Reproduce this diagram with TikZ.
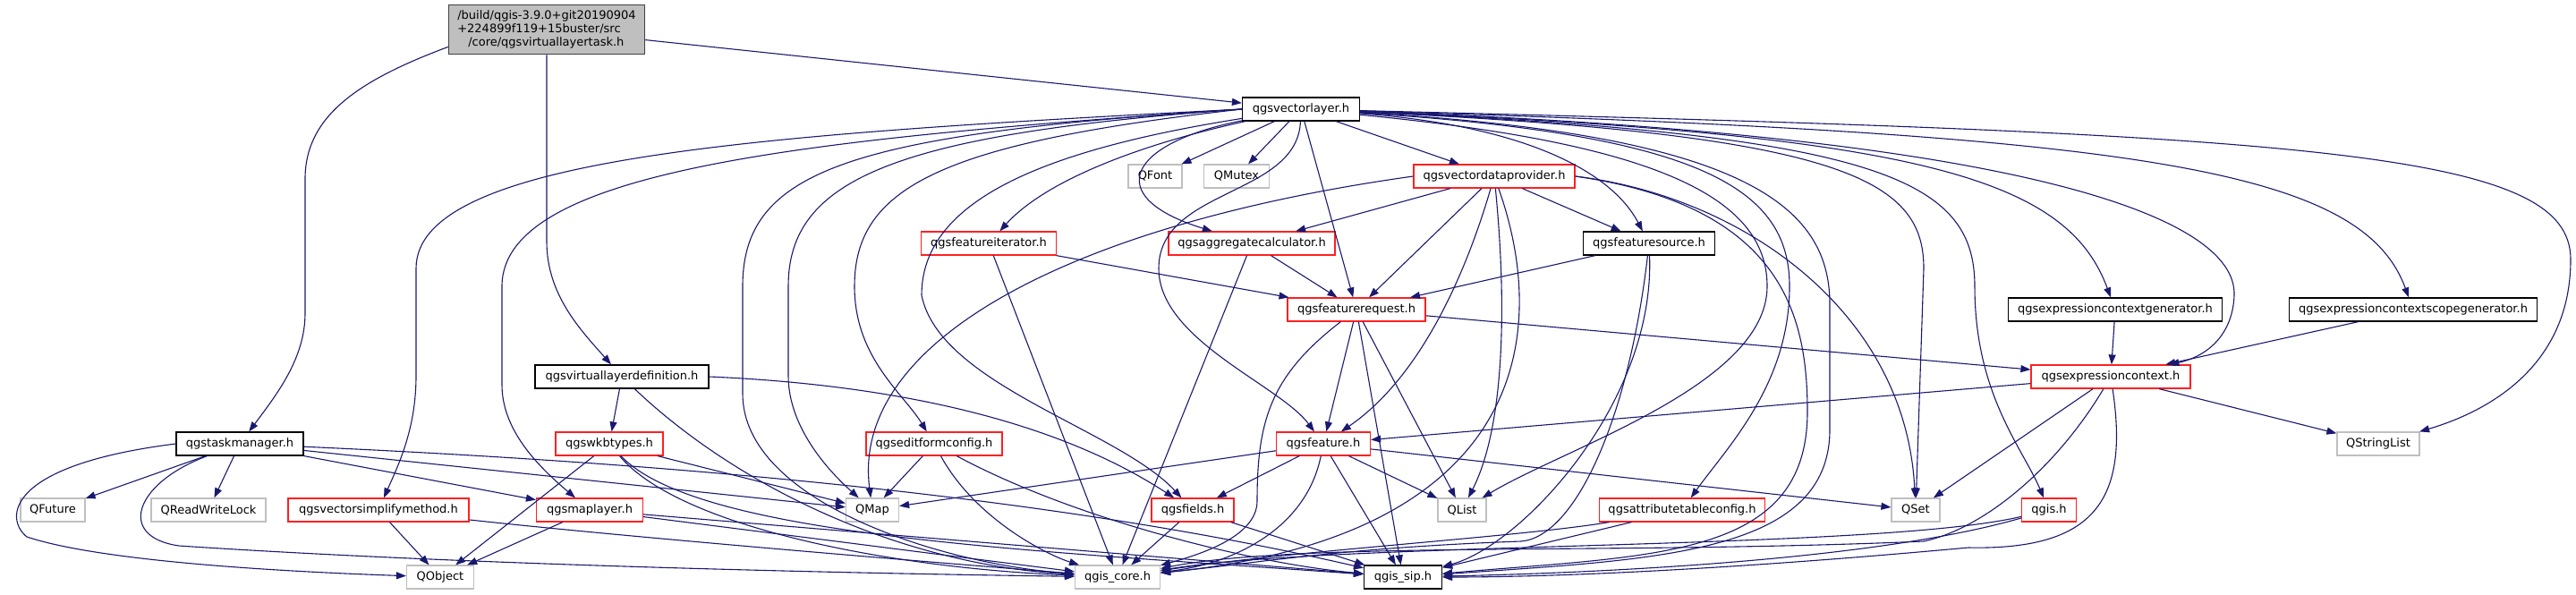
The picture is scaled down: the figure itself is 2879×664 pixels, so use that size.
\documentclass[tikz,border=0pt]{standalone}
\usepackage{fontspec}
\setmainfont{DejaVu Sans}
\usetikzlibrary{arrows.meta}
\definecolor{edgeblue}{HTML}{191970}
\definecolor{boxgray}{HTML}{BFBFBF}
\definecolor{rootgray}{HTML}{404040}
\definecolor{boxred}{HTML}{FF2020}
\tikzset{
  file/.style={draw, line width=1.2pt, minimum height=26pt, inner sep=0pt,
    font=\fontsize{13}{14.7}\selectfont},
  rootfile/.style={file, draw=rootgray, fill=boxgray, line width=1.5pt, align=left},
  docfile/.style={file, draw=black},
  redfile/.style={file, draw=boxred},
  extfile/.style={file, draw=boxgray},
  dep/.style={edgeblue, line width=1.1pt, -{Triangle[length=11pt,width=8pt]}}
}
\begin{document}
\begin{tikzpicture}[x=1pt,y=-1pt]
    \useasboundingbox (0,0) rectangle (2879,664);
    % rank 0 and 1
    \node[rootfile, minimum width=219pt, minimum height=55pt] (root) at (611,33)
        {/build/qgis-3.9.0+git20190904\\+224899f119+15buster/src\\\hspace*{12pt}/core/qgsvirtuallayertask.h};
    \node[docfile, minimum width=131pt] (vlayer) at (1454,122) {qgsvectorlayer.h};
    % rank 2
    \node[extfile, minimum width=60pt] (qfont) at (1291,197) {QFont};
    \node[extfile, minimum width=73pt] (qmutex) at (1382,197) {QMutex};
    \node[redfile, minimum width=180pt] (vdprov) at (1670,197) {qgsvectordataprovider.h};
    % rank 3
    \node[redfile, minimum width=151pt] (fiter) at (1105,272) {qgsfeatureiterator.h};
    \node[redfile, minimum width=186pt] (aggcalc) at (1399,272) {qgsaggregatecalculator.h};
    \node[docfile, minimum width=147pt] (fsource) at (1843,272) {qgsfeaturesource.h};
    % rank 4
    \node[redfile, minimum width=154pt] (freq) at (1516,346) {qgsfeaturerequest.h};
    \node[docfile, minimum width=239pt] (ecgen) at (2364,346) {qgsexpressioncontextgenerator.h};
    \node[docfile, minimum width=277pt] (ecsgen) at (2697,346) {qgsexpressioncontextscopegenerator.h};
    % rank 5
    \node[docfile, minimum width=194pt] (vldef) at (695,421) {qgsvirtuallayerdefinition.h};
    \node[redfile, minimum width=178pt] (exprctx) at (2359,421) {qgsexpressioncontext.h};
    % rank 6
    \node[docfile, minimum width=142pt] (taskmgr) at (268,496) {qgstaskmanager.h};
    \node[redfile, minimum width=120pt] (wkb) at (681,496) {qgswkbtypes.h};
    \node[redfile, minimum width=152pt] (efconf) at (1044,496) {qgseditformconfig.h};
    \node[redfile, minimum width=105pt] (feat) at (1479,496) {qgsfeature.h};
    \node[extfile, minimum width=92pt] (qsl) at (2658,496) {QStringList};
    % rank 7
    \node[extfile, minimum width=72pt] (qfuture) at (59,570) {QFuture};
    \node[extfile, minimum width=128pt] (qrwl) at (233,570) {QReadWriteLock};
    \node[redfile, minimum width=202pt] (vsimp) at (423,570) {qgsvectorsimplifymethod.h};
    \node[redfile, minimum width=119pt] (mlayer) at (659,570) {qgsmaplayer.h};
    \node[extfile, minimum width=59pt] (qmap) at (975,570) {QMap};
    \node[redfile, minimum width=92pt] (fields) at (1333,570) {qgsfields.h};
    \node[extfile, minimum width=54pt] (qlist) at (1634,570) {QList};
    \node[redfile, minimum width=185pt] (atconf) at (1880,570) {qgsattributetableconfig.h};
    \node[extfile, minimum width=54pt] (qset) at (2141,570) {QSet};
    \node[redfile, minimum width=61pt] (qgish) at (2290,570) {qgis.h};
    % rank 8
    \node[extfile, minimum width=75pt] (qobj) at (492,645) {QObject};
    \node[extfile, minimum width=95pt] (core) at (1249,645) {qgis\_core.h};
    \node[docfile, minimum width=87pt] (sip) at (1568,645) {qgis\_sip.h};

    % root
    \draw[dep] (root) -- (vlayer);
    \draw[dep] (root.190) .. controls (400,90) and (341,130) .. (341,200) -- (341,350)
        .. controls (341,400) and (310,440) .. (taskmgr);
    \draw[dep] (root.south) -- (611,270) .. controls (611,330) and (650,370) .. (vldef);

    % qgsvectorlayer.h, to the left
    \draw[dep] (vlayer.west) .. controls (850,150) and (465,175) .. (465,300) -- (465,420)
        .. controls (465,480) and (445,520) .. (vsimp);
    \draw[dep] (vlayer.west) .. controls (900,155) and (561,190) .. (561,320) -- (561,430)
        .. controls (561,480) and (600,520) .. (mlayer);
    \draw[dep] (vlayer.west) .. controls (950,150) and (830,190) .. (830,320) -- (830,440)
        .. controls (830,560) and (1050,630) .. (core);
    \draw[dep] (vlayer.west) .. controls (1000,150) and (881,200) .. (881,320) -- (881,420)
        .. controls (881,480) and (930,530) .. (qmap);
    \draw[dep] (vlayer.west) .. controls (1050,160) and (955,210) .. (955,320)
        .. controls (955,400) and (1010,440) .. (efconf);
    \draw[dep] (vlayer) .. controls (1150,170) and (1030,230) .. (1030,330)
        .. controls (1050,430) and (1250,480) .. (fields);
    \draw[dep] (vlayer) .. controls (1280,160) and (1170,200) .. (fiter);
    \draw[dep] (vlayer) .. controls (1260,160) and (1230,220) .. (aggcalc);
    \draw[dep] (vlayer) -- (qfont);
    \draw[dep] (vlayer) -- (qmutex);
    \draw[dep] (vlayer) .. controls (1450,220) and (1295,210) .. (1295,300)
        .. controls (1295,380) and (1430,430) .. (feat);
    \draw[dep] (vlayer) -- (freq);
    \draw[dep] (vlayer) -- (vdprov);
    % qgsvectorlayer.h, to the right
    \draw[dep] (vlayer) .. controls (1700,140) and (1800,190) .. (fsource);
    \draw[dep] (vlayer) .. controls (1850,160) and (1975,220) .. (1975,320)
        .. controls (1975,430) and (1750,500) .. (qlist);
    \draw[dep] (vlayer) .. controls (1900,150) and (2000,210) .. (2000,320)
        .. controls (2000,430) and (1930,500) .. (atconf);
    \draw[dep] (vlayer) .. controls (1950,150) and (2045,230) .. (2045,340) -- (2045,480)
        .. controls (2045,620) and (1850,625) .. (sip);
    \draw[dep] (vlayer) .. controls (2060,150) and (2150,200) .. (2150,300) -- (qset);
    \draw[dep] (vlayer) .. controls (2100,150) and (2207,200) .. (2207,320)
        .. controls (2207,440) and (2260,500) .. (qgish);
    \draw[dep] (vlayer) .. controls (2150,150) and (2310,200) .. (ecgen);
    \draw[dep] (vlayer) .. controls (2400,150) and (2640,190) .. (ecsgen);
    \draw[dep] (vlayer) .. controls (2250,150) and (2500,240) .. (2497,330)
        .. controls (2495,380) and (2460,400) .. (exprctx);
    \draw[dep] (vlayer) .. controls (2600,150) and (2873,170) .. (2873,290)
        .. controls (2873,410) and (2780,460) .. (qsl);

    % qgsvectordataprovider.h
    \draw[dep] (vdprov.west) .. controls (1200,250) and (950,380) .. (qmap);
    \draw[dep] (vdprov) -- (aggcalc);
    \draw[dep] (vdprov) -- (freq);
    \draw[dep] (vdprov) .. controls (1640,300) and (1590,420) .. (feat);
    \draw[dep] (vdprov) .. controls (1685,350) and (1680,480) .. (qlist);
    \draw[dep] (vdprov) .. controls (1735,380) and (1700,600) .. (core);
    \draw[dep] (vdprov) -- (fsource);
    \draw[dep] (vdprov.east) .. controls (1950,220) and (2130,350) .. (qset);
    \draw[dep] (vdprov.east) .. controls (1990,230) and (2020,350) .. (2020,460)
        .. controls (2020,625) and (1850,620) .. (sip);

    % qgsfeaturesource.h, qgsfeatureiterator.h, qgsaggregatecalculator.h
    \draw[dep] (fsource) -- (freq);
    \draw[dep] (fsource) .. controls (1820,470) and (1760,600) .. (1700,605)
        .. controls (1500,612) and (1400,630) .. (core);
    \draw[dep] (fsource) .. controls (1850,450) and (1700,610) .. (sip);
    \draw[dep] (fiter) -- (freq);
    \draw[dep] (fiter) -- (core);
    \draw[dep] (aggcalc) -- (freq);
    \draw[dep] (aggcalc) -- (core);

    % qgsfeaturerequest.h
    \draw[dep] (freq) -- (feat);
    \draw[dep] (freq) -- (qlist);
    \draw[dep] (freq) -- (sip);
    \draw[dep] (freq) .. controls (1420,420) and (1405,470) .. (1405,560)
        .. controls (1405,600) and (1340,620) .. (core);
    \draw[dep] (freq) -- (exprctx);

    % qgsexpressioncontext.h
    \draw[dep] (ecgen) -- (exprctx);
    \draw[dep] (ecsgen) -- (exprctx);
    \draw[dep] (exprctx) -- (feat);
    \draw[dep] (exprctx) -- (qsl);
    \draw[dep] (exprctx) -- (qset);
    \draw[dep] (exprctx) .. controls (2300,520) and (2220,590) .. (2150,605)
        .. controls (1800,620) and (1450,605) .. (core);
    \draw[dep] (exprctx) .. controls (2380,560) and (2340,615) .. (2200,612)
        .. controls (1950,635) and (1750,645) .. (sip);

    % qgsfeature.h and the row below
    \draw[dep] (feat) -- (qmap);
    \draw[dep] (feat) -- (fields);
    \draw[dep] (feat) -- (qlist);
    \draw[dep] (feat) -- (qset);
    \draw[dep] (feat) -- (sip);
    \draw[dep] (feat) .. controls (1460,590) and (1380,630) .. (core);
    \draw[dep] (fields) -- (core);
    \draw[dep] (fields) -- (sip);
    \draw[dep] (efconf) -- (qmap);
    \draw[dep] (efconf) .. controls (1090,580) and (1170,620) .. (core);
    \draw[dep] (efconf) .. controls (1200,580) and (1400,630) .. (sip);
    \draw[dep] (atconf) .. controls (1700,600) and (1450,615) .. (core);
    \draw[dep] (atconf) -- (sip);
    \draw[dep] (qgish) .. controls (2100,615) and (1500,605) .. (core);
    \draw[dep] (qgish) .. controls (2100,625) and (1800,640) .. (sip);

    % qgsvirtuallayerdefinition.h, qgswkbtypes.h
    \draw[dep] (vldef) -- (wkb);
    \draw[dep] (vldef.east) .. controls (1000,430) and (1180,470) .. (fields);
    \draw[dep] (vldef) .. controls (820,540) and (1000,630) .. (core);
    \draw[dep] (wkb) -- (qmap);
    \draw[dep] (wkb) -- (qobj);
    \draw[dep] (wkb) .. controls (760,590) and (1000,635) .. (core);
    \draw[dep] (wkb) .. controls (780,600) and (1150,615) .. (sip);

    % qgstaskmanager.h
    \draw[dep] (taskmgr) -- (qfuture);
    \draw[dep] (taskmgr) -- (qrwl);
    \draw[dep] (taskmgr.west) .. controls (5,520) and (5,580) .. (30,600)
        .. controls (120,630) and (350,640) .. (qobj);
    \draw[dep] (taskmgr) .. controls (150,540) and (130,600) .. (200,610)
        .. controls (500,630) and (900,640) .. (core);
    \draw[dep] (taskmgr) -- (mlayer);
    \draw[dep] (taskmgr) -- (qmap);
    \draw[dep] (taskmgr) .. controls (800,520) and (1200,560) .. (sip);

    % qgsmaplayer.h, qgsvectorsimplifymethod.h
    \draw[dep] (mlayer) -- (qobj);
    \draw[dep] (mlayer) -- (core);
    \draw[dep] (mlayer) -- (sip);
    \draw[dep] (vsimp) -- (qobj);
    \draw[dep] (vsimp) .. controls (700,600) and (1000,625) .. (core);
\end{tikzpicture}
\end{document}
